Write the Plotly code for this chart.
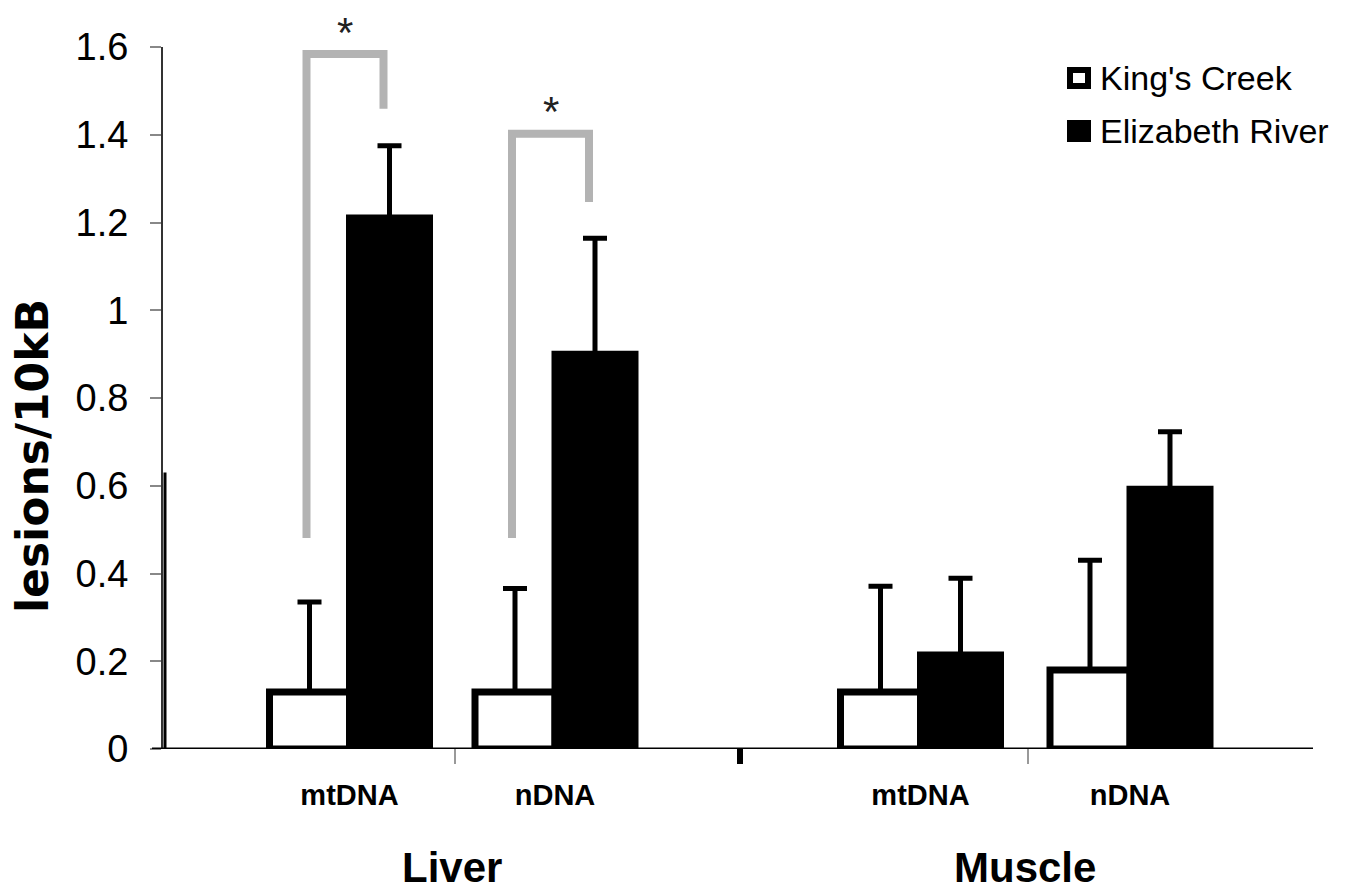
import plotly.graph_objects as go

# ---------------- data ----------------
categories = ["mtDNA", "nDNA", "mtDNA", "nDNA"]
tissues = ["Liver", "Muscle"]
series_names = ["King's Creek", "Elizabeth River"]
kings_creek = [0.13, 0.13, 0.13, 0.18]
kings_creek_err = [0.205, 0.236, 0.241, 0.25]
elizabeth_river = [1.21, 0.90, 0.214, 0.592]
elizabeth_river_err = [0.165, 0.264, 0.175, 0.131]
y_tick_vals = [0, 0.2, 0.4, 0.6, 0.8, 1.0, 1.2, 1.4, 1.6]
y_tick_text = ["0", "0.2", "0.4", "0.6", "0.8", "1", "1.2", "1.4", "1.6"]
y_max = 1.6
# significance brackets: (category index, top of bracket, right-leg bottom)
sig_brackets = [(0, 1.584, 1.459), (1, 1.402, 1.247)]
sig_left_bottom = 0.481

# ---------------- layout positions ----------------
OFF = 8  # default page body margin
W, H = 1347 - OFF, 891 - OFF
ML, MT = 163 - OFF, 47 - OFF
MR, MB = W - (1313 - OFF), H - (749 - OFF)
PW, PH = W - ML - MR, H - MT - MB
# x axis in plot-pixel units
group_pos = [186.5, 392, 757.5, 967]
separators = [-1, 292, 577, 865]  # tick marks on the category axis
bar_off, bar_w = 40, 80

def pxx(px):  # page pixel -> paper x
    return (px - OFF - ML) / PW

def pxy(py):  # page pixel -> paper y
    return (H - MB - (py - OFF)) / PH

FONT = "Arial, Liberation Sans, Helvetica, sans-serif"

fig = go.Figure()
fig.add_trace(go.Bar(
    x=[p - bar_off for p in group_pos], y=kings_creek, width=bar_w,
    name=series_names[0], cliponaxis=False,
    marker=dict(color="white", line=dict(color="black", width=7)),
    error_y=dict(type="data", array=kings_creek_err, arrayminus=[0] * 4,
                 symmetric=False, color="black", thickness=5, width=12),
))
fig.add_trace(go.Bar(
    x=[p + bar_off for p in group_pos], y=elizabeth_river, width=bar_w,
    name=series_names[1], cliponaxis=False,
    marker=dict(color="black", line=dict(color="black", width=7)),
    error_y=dict(type="data", array=elizabeth_river_err, arrayminus=[0] * 4,
                 symmetric=False, color="black", thickness=5, width=12),
))

shapes = []
annotations = []

# significance brackets
for idx, top, rbot in sig_brackets:
    xl = group_pos[idx] - bar_off - 3
    xr = group_pos[idx] + bar_off - 6
    shapes.append(dict(type="path", xref="x", yref="y",
                       path=f"M {xl},{sig_left_bottom} L {xl},{top} L {xr},{top} L {xr},{rbot}",
                       line=dict(color="#b3b3b3", width=8)))
    annotations.append(dict(x=(xl + xr) / 2, y=(top + 0.05) / y_max, xref="x", yref="paper",
                            text="*", showarrow=False, yanchor="middle",
                            font=dict(family=FONT, size=42, color="#222")))

# x axis line (extends slightly left of y axis)
shapes.append(dict(type="line", xref="paper", yref="y", x0=pxx(152), x1=1, y0=0, y1=0,
                   line=dict(color="black", width=3)))
# thicker lower segment of the y axis
shapes.append(dict(type="line", xref="paper", yref="y", x0=pxx(165), x1=pxx(165), y0=0, y1=0.63,
                   line=dict(color="black", width=3)))
# category separator ticks
for i, s in enumerate(separators):
    if i == 2:
        shapes.append(dict(type="line", xref="x", yref="paper", x0=s, x1=s, y0=0, y1=pxy(764),
                           line=dict(color="black", width=6)))
    else:
        shapes.append(dict(type="line", xref="x", yref="paper", x0=s, x1=s, y0=0, y1=pxy(764),
                           line=dict(color="#777", width=1.5)))

# tissue labels
for k, t in enumerate(tissues):
    annotations.append(dict(x=(group_pos[2 * k] + group_pos[2 * k + 1]) / 2, y=pxy(867),
                            xref="x", yref="paper", text=f"<b>{t}</b>", showarrow=False,
                            yanchor="middle", font=dict(family=FONT, size=42, color="black")))

# y axis title
annotations.append(dict(x=pxx(32), y=pxy(456), xref="paper", yref="paper",
                        text="<b>lesions/10kB</b>", textangle=-90, showarrow=False,
                        xanchor="center", yanchor="middle",
                        font=dict(family="DejaVu Sans, Arial, sans-serif", size=44, color="black")))

# manual legend
leg = [(series_names[0], "white", 78), (series_names[1], "black", 131)]
for name, fill, cy in leg:
    shapes.append(dict(type="rect", xref="paper", yref="paper",
                       x0=pxx(1070), x1=pxx(1088), y0=pxy(cy - 8), y1=pxy(cy + 8),
                       fillcolor=fill, line=dict(color="black", width=6)))
    annotations.append(dict(x=pxx(1098), y=pxy(cy), xref="paper", yref="paper", text=name,
                            showarrow=False, xanchor="left", yanchor="middle",
                            font=dict(family=FONT, size=34, color="black")))

fig.update_layout(
    width=W, height=H, margin=dict(l=ML, r=MR, t=MT, b=MB),
    paper_bgcolor="white", plot_bgcolor="white",
    barmode="overlay", showlegend=False,
    shapes=shapes, annotations=annotations,
    xaxis=dict(range=[0, PW], tickvals=group_pos, ticktext=[f"<b>{c}</b>" for c in categories],
               ticks="", showgrid=False, zeroline=False, showline=False,
               tickfont=dict(family=FONT, size=29, color="black"), ticklabelstandoff=26),
    yaxis=dict(range=[0, y_max], tickvals=y_tick_vals, ticktext=y_tick_text,
               ticks="outside", ticklen=11, tickwidth=2, tickcolor="#888",
               showline=True, linecolor="#333", linewidth=2, showgrid=False, zeroline=False,
               tickfont=dict(family=FONT, size=38, color="black"), ticklabelstandoff=14),
)

fig.write_html("out.html")
